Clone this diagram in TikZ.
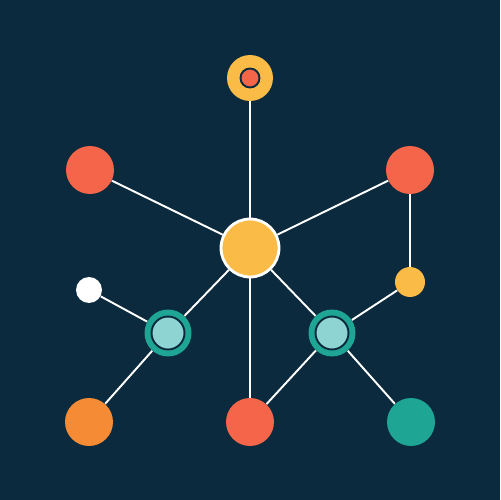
\documentclass[tikz,border=0pt]{standalone}
\usepackage{tikz}
\definecolor{navy}{HTML}{0B2A3D}
\definecolor{sun}{HTML}{FBBB47}
\definecolor{coral}{HTML}{F4654A}
\definecolor{amber}{HTML}{F58B34}
\definecolor{jade}{HTML}{1FA594}
\definecolor{mint}{HTML}{8DD4D3}

\begin{document}
\begin{tikzpicture}[
    x=0.02cm, y=-0.02cm,
    dot/.style={circle,inner sep=0pt,minimum size=#1},
    dot/.default=0.96cm,
    hubnode/.style={circle,inner sep=0pt,minimum size=1.16cm,fill=sun,draw=white,line width=1.6pt},
    core/.style={circle,inner sep=0pt,draw=navy,line width=1.1pt},
    link/.style={draw=white,line width=1.1pt}
]
    % Background (fixes the margins)
    \fill[navy] (0,0) rectangle (500,500);

    % Hub and its outer nodes
    \node[hubnode] (hub) at (250,248) {};
    \node[dot=0.92cm,fill=sun] (top) at (250,78) {};
    \node[core,fill=coral,minimum size=0.38cm] (topin) at (top) {};
    \node[dot,fill=coral] (redtl) at (90,170) {};
    \node[dot,fill=coral] (redtr) at (410,170) {};
    \node[dot=0.6cm,fill=sun] (dotr) at (410,282) {};
    \node[dot=0.52cm,fill=white] (dotl) at (89,290) {};

    % Teal relay nodes
    \node[dot=0.94cm,fill=jade] (teall) at (168,333) {};
    \node[core,fill=mint,minimum size=0.66cm] (teallin) at (teall) {};
    \node[dot=0.94cm,fill=jade] (tealr) at (332,333) {};
    \node[core,fill=mint,minimum size=0.66cm] (tealrin) at (tealr) {};

    % Bottom row
    \node[dot,fill=amber] (orng) at (89,422) {};
    \node[dot,fill=coral] (redb) at (250,422) {};
    \node[dot,fill=jade] (tealb) at (411,422) {};

    % Links
    \draw[link] (top) -- (hub);
    \draw[link] (hub) -- (redtl);
    \draw[link] (hub) -- (redtr);
    \draw[link] (redtr) -- (dotr);
    \draw[link] (dotr) -- (tealr);
    \draw[link] (hub) -- (teall);
    \draw[link] (hub) -- (tealr);
    \draw[link] (hub) -- (redb);
    \draw[link] (teall) -- (dotl);
    \draw[link] (teall) -- (orng);
    \draw[link] (tealr) -- (redb);
    \draw[link] (tealr) -- (tealb);
\end{tikzpicture}
\end{document}
